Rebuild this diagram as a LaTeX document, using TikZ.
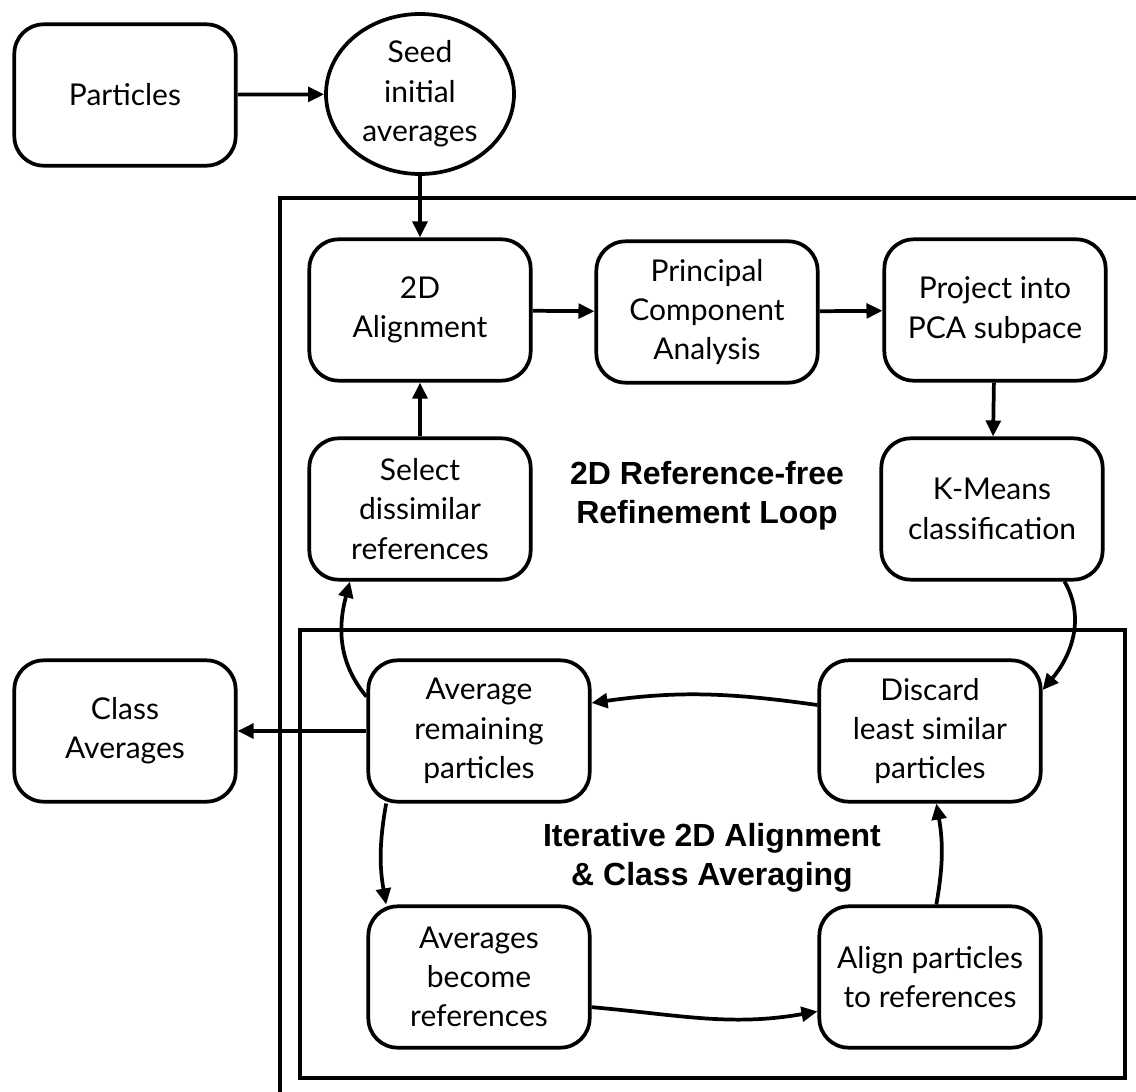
\documentclass[tikz,border=0pt]{standalone}
\usepackage{fontspec}
\setmainfont{Lato}
\newfontfamily\labelfont{Liberation Sans}
\usetikzlibrary{arrows.meta,shapes.geometric}
\begin{document}
\begin{tikzpicture}[x=0.75pt,y=-0.75pt,
  box/.style={draw,line width=2.8pt,rounded corners=22pt,minimum width=166pt,minimum height=106pt,align=center,inner sep=2pt,font=\fontsize{22.5}{29.5}\selectfont},
  seedell/.style={draw,ellipse,line width=2.8pt,minimum width=141pt,minimum height=120pt,align=center,inner sep=0pt,font=\fontsize{22.5}{29.5}\selectfont},
  frame/.style={draw,line width=2.8pt},
  arr/.style={line width=2.8pt,-{Triangle[length=12pt,width=11pt]}},
  looplabel/.style={align=center,font=\labelfont\bfseries\fontsize{24}{29}\selectfont}
]
\useasboundingbox (0,0) rectangle (1136,1092);
\fill[white] (0,0) rectangle (1136,1092);
% frames
\draw[frame] (1150,198) -- (280,198) -- (280,1110);
\draw[frame] (300,630) rectangle (1125,1078);
% nodes
\node[box] (particles) at (125,95) {Particles};
\node[seedell] (seed) at (420,94) {Seed\\initial\\averages};
\node[box] (align2d) at (420,310) {2D\\Alignment};
\node[box] (pca) at (707,312) {Principal\\Component\\Analysis};
\node[box] (project) at (995,310) {Project into\\PCA subpace};
\node[box] (select) at (420,509) {Select\\dissimilar\\references};
\node[box] (kmeans) at (992,509) {K-Means\\classification};
\node[box] (classavg) at (125,731) {Class\\Averages};
\node[box] (avgrem) at (479,731) {Average\\remaining\\particles};
\node[box] (discard) at (930,731) {Discard\\least similar\\particles};
\node[box] (avgbec) at (479,977) {Averages\\become\\references};
\node[box] (alignp) at (930,977) {Align particles\\to references};
\node[looplabel] (lab1) at (707,496) {2D Reference-free\\Refinement Loop};
\node[looplabel] (lab2) at (712,858) {Iterative 2D Alignment\\\& Class Averaging};
% edges
\draw[arr] (particles) -- (seed);
\draw[arr] (seed) -- (align2d);
\draw[arr] (align2d) -- (pca);
\draw[arr] (pca) -- (project);
\draw[arr] (project) -- (kmeans);
\draw[arr] (select) -- (align2d);
\draw[arr] (kmeans.-45) to[out=-60,in=50] (discard.20);
\draw[arr] (discard.167) to[out=172,in=8] (avgrem.14);
\draw[arr] (avgrem.163) to[out=130,in=-105] (select.-134);
\draw[arr] (avgrem) -- (classavg);
\draw[arr] (avgrem.-142) to[out=-100,in=100] (avgbec.142);
\draw[arr] (avgbec.-15) to[out=-5,in=-170] (alignp.-163);
\draw[arr] (alignp.85) to[out=80,in=-80] (discard.-85);
\end{tikzpicture}
\end{document}
